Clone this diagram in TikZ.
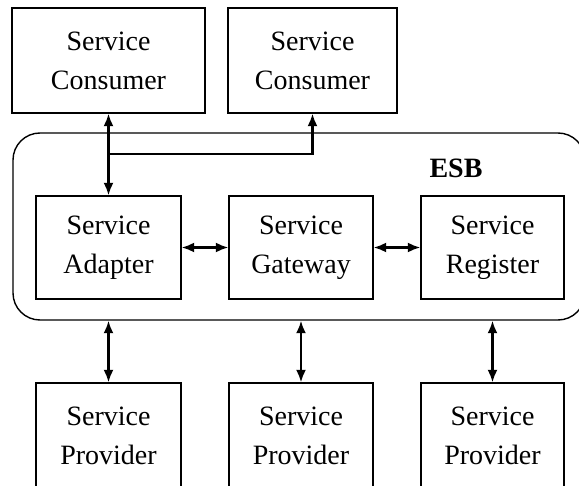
\documentclass[tikz,border=0pt]{standalone}
\usepackage{fontspec}
\setmainfont{Liberation Serif}
\usepackage{tikz}
\usetikzlibrary{arrows.meta}
\tikzstyle{bus}=[line width=1.3pt,draw=black]
\tikzstyle{link}=[line width=2.2pt,draw=black,{Latex[length=12.5pt,width=10pt]}-{Latex[length=12.5pt,width=10pt]}]
\tikzstyle{uplink}=[line width=2.2pt,draw=black,-{Latex[length=12.5pt,width=10pt]}]
\tikzstyle{svc}=[rectangle,draw,line width=1.3pt,inner sep=0pt,minimum height=105pt,align=center,font=\fontsize{28pt}{39pt}\selectfont]
\tikzstyle{esbbox}=[rectangle,draw,line width=1.4pt,rounded corners=27pt,inner sep=0pt,minimum width=572pt,minimum height=187pt]
\tikzstyle{lbl}=[inner sep=0pt,font=\fontsize{28pt}{33pt}\selectfont\bfseries]

\begin{document}
\begin{tikzpicture}[x=1pt,y=-1pt]
				\useasboundingbox (0,0) rectangle (579,486);

				%The bus
				\draw (299,226.5) node[esbbox] (esb) {};
				\draw (456,168) node[lbl] (esblbl) {ESB};

				%The consumers
				\draw (108.5,60.5) node[svc, minimum width=193pt] (c1) {Service\\Consumer};
				\draw (312.5,60.5) node[svc, minimum width=169pt] (c2) {Service\\Consumer};

				%The components inside the bus
				\draw (108.5,247.5) node[svc, minimum width=145pt, minimum height=103pt] (adapter) {Service\\Adapter};
				\draw (301,247.5) node[svc, minimum width=144pt, minimum height=103pt] (gateway) {Service\\Gateway};
				\draw (492.5,247.5) node[svc, minimum width=143pt, minimum height=103pt] (register) {Service\\Register};

				%The providers
				\draw (108.5,435.5) node[svc, minimum width=145pt] (p1) {Service\\Provider};
				\draw (301,435.5) node[svc, minimum width=144pt] (p2) {Service\\Provider};
				\draw (492.5,435.5) node[svc, minimum width=143pt] (p3) {Service\\Provider};

				%Consumer links
				\coordinate (j1) at (108.5,154);
				\coordinate (j2) at (c2.south |- j1);
				\draw[link] (c1.south) -- (adapter.north);
				\draw[uplink] (j1) -- (j2) -- (c2.south);

				%Links between the components
				\draw[link] (adapter.east) -- (gateway.west);
				\draw[link] (gateway.east) -- (register.west);

				%Provider links
				\draw[link] (p1.north |- esb.south) -- (p1.north);
				\draw[link] (p2.north |- esb.south) -- (p2.north);
				\draw[link] (p3.north |- esb.south) -- (p3.north);
\end{tikzpicture}
\end{document}
